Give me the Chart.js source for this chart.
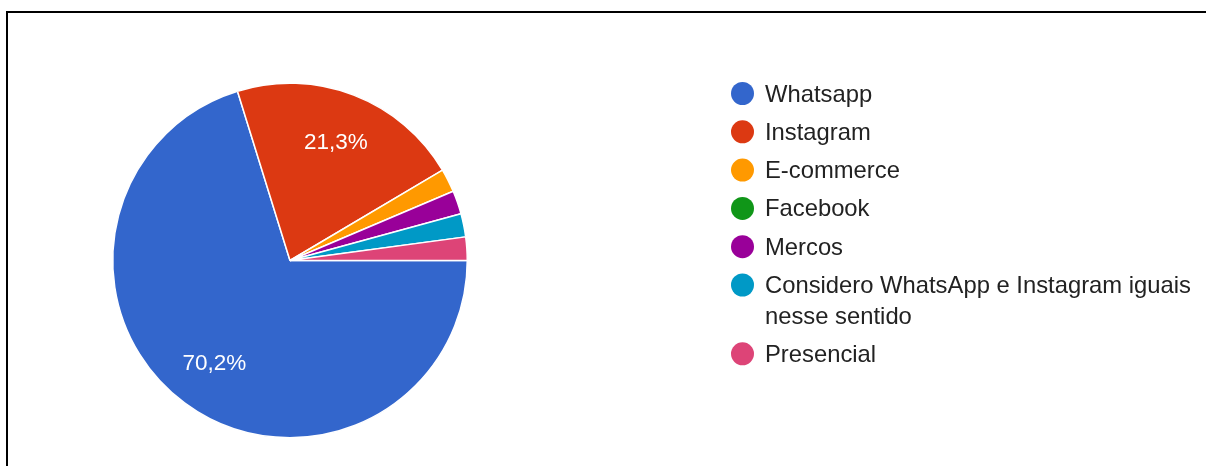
<!DOCTYPE html>
<html>
<head>
<meta charset="utf-8">
<script src="https://cdn.jsdelivr.net/npm/chart.js@4"></script>
<style>
  html, body { margin: 0; padding: 0; background: #fff; }
  #moldura { position: absolute; left: 6px; top: 11px; width: 1200px; height: 455px;
             border-left: 2px solid #000; border-top: 2px solid #000; }
  #grafico { position: absolute; left: 0; top: 0; }
</style>
</head>
<body>
<div id="moldura"></div>
<canvas id="grafico" width="1206" height="466"></canvas>
<script>
const categorias = ['Whatsapp', 'Instagram', 'E-commerce', 'Facebook', 'Mercos',
  ['Considero WhatsApp e Instagram iguais', 'nesse sentido'], 'Presencial'];
const respostas = [33, 10, 1, 0, 1, 1, 1];
const cores = ['#3366cc', '#dc3912', '#ff9900', '#109618', '#990099', '#0099c6', '#dd4477'];

const fonte = '"Liberation Sans", Arial, sans-serif';

// rotulos de porcentagem dentro das fatias maiores
const rotulos = {
  id: 'rotulos',
  afterDatasetsDraw(chart) {
    const ctx = chart.ctx;
    const total = respostas.reduce((a, b) => a + b, 0);
    chart.getDatasetMeta(0).data.forEach((arco, i) => {
      const pct = respostas[i] / total * 100;
      if (pct < 5) return;
      const { startAngle, endAngle, outerRadius, x, y } = arco.getProps(['startAngle', 'endAngle', 'outerRadius', 'x', 'y'], true);
      const meio = (startAngle + endAngle) / 2;
      const d = outerRadius * 0.72;
      ctx.save();
      ctx.fillStyle = '#fff';
      ctx.font = '22.5px ' + fonte;
      ctx.textAlign = 'center';
      ctx.textBaseline = 'middle';
      ctx.fillText(pct.toFixed(1).replace('.', ',') + '%', x + Math.cos(meio) * d, y + 1 + Math.sin(meio) * d);
      ctx.restore();
    });
  }
};

// legenda desenhada a mao para permitir quebra de linha
const legenda = {
  id: 'legenda',
  afterDraw(chart) {
    const ctx = chart.ctx;
    let y = 93.5;
    ctx.save();
    ctx.font = '23.8px ' + fonte;
    ctx.textBaseline = 'middle';
    categorias.forEach((cat, i) => {
      const linhas = Array.isArray(cat) ? cat : [cat];
      ctx.fillStyle = cores[i];
      ctx.beginPath();
      ctx.arc(742.5, y, 11.5, 0, Math.PI * 2);
      ctx.fill();
      ctx.fillStyle = '#222';
      linhas.forEach((linha, j) => {
        ctx.fillText(linha, 765, y + 1.5 + j * 30.5);
      });
      y += 38.3 + (linhas.length - 1) * 30.5;
    });
    ctx.restore();
  }
};

const graficoCanais = new Chart(document.getElementById('grafico'), {
  type: 'pie',
  data: {
    labels: categorias,
    datasets: [{
      data: respostas,
      backgroundColor: cores,
      borderColor: '#fff',
      borderWidth: 1.5,
      hoverOffset: 0,
      offset: 0
    }]
  },
  options: {
    responsive: false,
    animation: false,
    rotation: 90,
    layout: { padding: { left: 112, right: 738, top: 82, bottom: 27 } },
    plugins: {
      legend: { display: false },
      tooltip: { enabled: false }
    }
  },
  plugins: [rotulos, legenda]
});
</script>
</body>
</html>
